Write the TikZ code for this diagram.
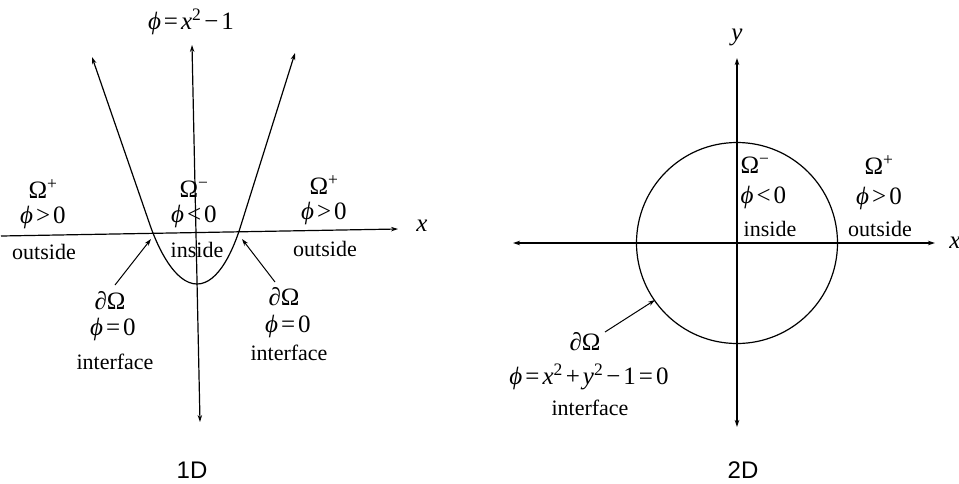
\documentclass[tikz,border=0pt]{standalone}
\usepackage{fontspec}
\setmainfont{Liberation Serif}
\newfontfamily\arialfont{Liberation Sans}
\usetikzlibrary{arrows.meta}
\newcommand{\myphi}{\textit{ϕ}}
\newcommand{\rl}[1]{\hspace{0.12em}#1\hspace{0.12em}}
\newcommand{\sq}{\textsuperscript{2}}
\begin{document}
\begin{tikzpicture}[x=1pt,y=-1pt,line width=1.2pt,
  lbl/.style={inner sep=0pt,font=\fontsize{22}{24}\selectfont},
  mlbl/.style={inner sep=0pt,font=\fontsize{25}{27}\selectfont},
  pairlbl/.style={inner sep=0pt,align=center,font=\fontsize{25}{25}\selectfont},
  pairleft/.style={inner sep=0pt,align=left,anchor=west,font=\fontsize{25}{30}\selectfont},
  captionlbl/.style={inner sep=0pt,font=\arialfont\fontsize{24}{26}\selectfont},
  onetip/.style={-{Stealth[length=7pt,width=4.5pt]}},
  twotip/.style={{Stealth[length=7pt,width=4.5pt]}-{Stealth[length=7pt,width=4.5pt]}},
  pointer/.style={line width=1pt,-{Stealth[length=7pt,width=4.5pt]}}]
\useasboundingbox (0,0) rectangle (959,483);
\fill[white] (0,0) rectangle (959,483);
% ---------- 1D ----------
\coordinate (yB1) at (200,422);
\coordinate (yT1) at (192,45);
\coordinate (xL1) at (1,236);
\coordinate (xR1) at (398,229);
\coordinate (pL) at (92,57);
\coordinate (pR) at (295,53);
\coordinate (pV) at (197,284);
\draw[twotip] (yB1) -- (yT1);
\draw[onetip] (xL1) -- (xR1);
\draw[twotip] (pL) -- (150,225) .. controls (158,248) and (175,284) .. (pV)
  .. controls (219,284) and (234,248) .. (241,225) -- (pR);
\node[mlbl] (xlab1) at (422,226) {\textit{x}};
\node[mlbl] (eq1) at (191,22) {\myphi\rl{=}\textit{x}\sq\rl{−}1};
\node[pairlbl] (regL) at (43,204) {Ω\textsuperscript{+}\\\myphi\rl{>}0};
\node[lbl] (outL) at (44,252) {outside};
\node[pairlbl] (regM) at (194,204) {Ω\textsuperscript{−}\\\myphi\rl{<}0};
\node[lbl] (inM) at (197,250) {inside};
\node[pairlbl] (regR) at (324,200) {Ω\textsuperscript{+}\\\myphi\rl{>}0};
\node[lbl] (outR) at (325,249) {outside};
\node[mlbl] (dOL) at (110,301) {∂Ω};
\node[mlbl] (phzL) at (113,329) {\myphi\rl{=}0};
\node[lbl] (ifL) at (115,362) {interface};
\node[mlbl] (dOR) at (284,297) {∂Ω};
\node[mlbl] (phzR) at (288,326) {\myphi\rl{=}0};
\node[lbl] (ifR) at (289,353) {interface};
\coordinate (aLs) at (115,285);
\coordinate (aLe) at (151,239);
\coordinate (aRs) at (275,282);
\coordinate (aRe) at (242,239);
\draw[pointer] (aLs) -- (aLe);
\draw[pointer] (aRs) -- (aRe);
\node[captionlbl] (c1) at (192,470) {1D};
% ---------- 2D ----------
\coordinate (O2) at (737,243);
\coordinate (xL2) at (513,243);
\coordinate (xR2) at (935,243);
\coordinate (yB2) at (737,427);
\coordinate (yT2) at (737,58);
\draw[twotip] (xL2) -- (xR2);
\draw[twotip] (yB2) -- (yT2);
\draw (O2) circle[radius=100.5];
\node[mlbl] (xlab2) at (955,243) {\textit{x}};
\node[mlbl] (ylab2) at (737,37) {\textit{y}};
\node[pairleft] (regI) at (740,183) {Ω\textsuperscript{−}\\\myphi\rl{<}0};
\node[lbl] (inI) at (770,229) {inside};
\node[pairlbl,font=\fontsize{25}{30}\selectfont] (regO) at (879,183) {Ω\textsuperscript{+}\\\myphi\rl{>}0};
\node[lbl] (outO) at (880,229) {outside};
\node[mlbl] (dO2) at (585,342) {∂Ω};
\node[mlbl] (eq2) at (589,377) {\myphi\rl{=}\textit{x}\sq\rl{+}\textit{y}\sq\rl{−}1\rl{=}0};
\node[lbl] (if2) at (590,408) {interface};
\coordinate (a2s) at (605,332);
\coordinate (a2e) at (655,300);
\draw[pointer] (a2s) -- (a2e);
\node[captionlbl] (c2) at (743,470) {2D};
\end{tikzpicture}
\end{document}
